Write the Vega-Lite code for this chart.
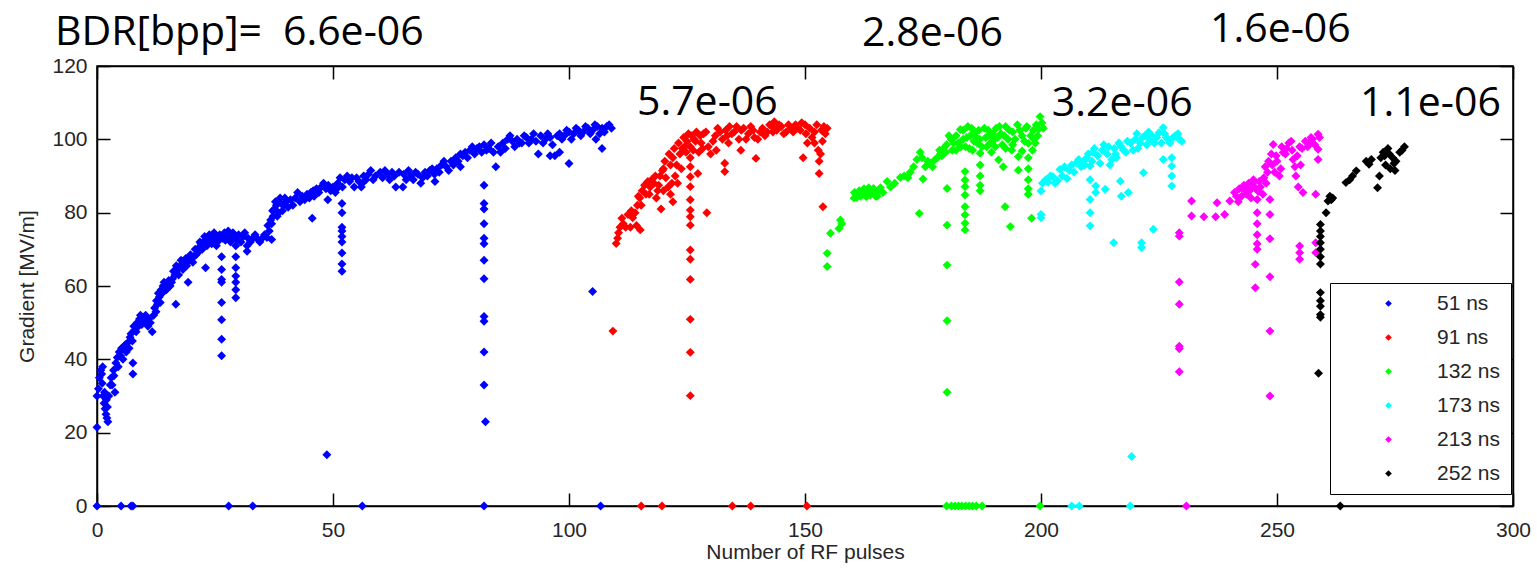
{
"$schema": "https://vega.github.io/schema/vega-lite/v6.json",
"width": 1416, "height": 440,
"autosize": {"type": "none"},
"padding": {"left": 97, "top": 66, "right": 24, "bottom": 67},
"background": "white",
"config": {
 "view": {"stroke": "black", "strokeWidth": 1.5},
 "axis": {"grid": false, "labelFlush": false, "domainColor": "black", "domainWidth": 1.5, "tickColor": "black", "tickWidth": 1.5, "tickSize": -13,
  "labelFont": "Liberation Sans", "labelFontSize": 21, "labelColor": "#262626", "titleFont": "Liberation Sans", "titleFontSize": 21, "titleFontWeight": "normal", "titleColor": "#262626"}
},
"datasets": {
"pts": [
{"pulses":0,"gradient":21.5,"width":"51 ns"},{"pulses":0,"gradient":30,"width":"51 ns"},{"pulses":0.3,"gradient":32,"width":"51 ns"},{"pulses":0.5,"gradient":35,"width":"51 ns"},{"pulses":0.8,"gradient":37,"width":"51 ns"},{"pulses":1,"gradient":36,"width":"51 ns"},{"pulses":1.1,"gradient":33.5,"width":"51 ns"},{"pulses":1.3,"gradient":30,"width":"51 ns"},{"pulses":1.5,"gradient":28,"width":"51 ns"},{"pulses":1.7,"gradient":26.5,"width":"51 ns"},{"pulses":1.9,"gradient":25,"width":"51 ns"},{"pulses":2.1,"gradient":24,"width":"51 ns"},{"pulses":2.3,"gradient":23,"width":"51 ns"},{"pulses":2.2,"gradient":27,"width":"51 ns"},{"pulses":2,"gradient":29,"width":"51 ns"},{"pulses":1.6,"gradient":31,"width":"51 ns"},{"pulses":1.2,"gradient":38,"width":"51 ns"},{"pulses":2.5,"gradient":30,"width":"51 ns"},{"pulses":2.8,"gradient":33,"width":"51 ns"},{"pulses":3.8,"gradient":31,"width":"51 ns"},{"pulses":3,"gradient":35,"width":"51 ns"},{"pulses":3.5,"gradient":37,"width":"51 ns"},{"pulses":4,"gradient":39,"width":"51 ns"},{"pulses":4.3,"gradient":40.5,"width":"51 ns"},{"pulses":4.7,"gradient":42,"width":"51 ns"},{"pulses":5.2,"gradient":43,"width":"51 ns"},{"pulses":5.7,"gradient":43.5,"width":"51 ns"},{"pulses":6.2,"gradient":42,"width":"51 ns"},{"pulses":6.8,"gradient":43,"width":"51 ns"},{"pulses":7.2,"gradient":47,"width":"51 ns"},{"pulses":7.6,"gradient":39,"width":"51 ns"},{"pulses":7.6,"gradient":36,"width":"51 ns"},{"pulses":7.5,"gradient":45,"width":"51 ns"},{"pulses":8,"gradient":48,"width":"51 ns"},{"pulses":8.5,"gradient":50,"width":"51 ns"},{"pulses":9,"gradient":51,"width":"51 ns"},{"pulses":9.5,"gradient":49.5,"width":"51 ns"},{"pulses":10,"gradient":50.5,"width":"51 ns"},{"pulses":10.5,"gradient":50,"width":"51 ns"},{"pulses":11,"gradient":51,"width":"51 ns"},{"pulses":11.7,"gradient":47.5,"width":"51 ns"},{"pulses":12,"gradient":52,"width":"51 ns"},{"pulses":12.5,"gradient":53,"width":"51 ns"},{"pulses":12.8,"gradient":55,"width":"51 ns"},{"pulses":13.2,"gradient":57,"width":"51 ns"},{"pulses":13.6,"gradient":59,"width":"51 ns"},{"pulses":14,"gradient":60,"width":"51 ns"},{"pulses":14.5,"gradient":60.5,"width":"51 ns"},{"pulses":15,"gradient":59.5,"width":"51 ns"},{"pulses":15.5,"gradient":60,"width":"51 ns"},{"pulses":16,"gradient":62,"width":"51 ns"},{"pulses":16.7,"gradient":55,"width":"51 ns"},{"pulses":16.5,"gradient":63,"width":"51 ns"},{"pulses":17,"gradient":64.5,"width":"51 ns"},{"pulses":17.5,"gradient":65,"width":"51 ns"},{"pulses":18,"gradient":66,"width":"51 ns"},{"pulses":18.5,"gradient":66.5,"width":"51 ns"},{"pulses":19.3,"gradient":61,"width":"51 ns"},{"pulses":19.5,"gradient":67,"width":"51 ns"},{"pulses":20,"gradient":67.5,"width":"51 ns"},{"pulses":20.5,"gradient":68,"width":"51 ns"},{"pulses":21,"gradient":68.5,"width":"51 ns"},{"pulses":21.6,"gradient":70.5,"width":"51 ns"},{"pulses":22,"gradient":71.5,"width":"51 ns"},{"pulses":22.5,"gradient":72,"width":"51 ns"},{"pulses":23,"gradient":65,"width":"51 ns"},{"pulses":23,"gradient":72.5,"width":"51 ns"},{"pulses":23.5,"gradient":72,"width":"51 ns"},{"pulses":24,"gradient":73,"width":"51 ns"},{"pulses":24.5,"gradient":72.5,"width":"51 ns"},{"pulses":25,"gradient":73.5,"width":"51 ns"},{"pulses":25.5,"gradient":72,"width":"51 ns"},{"pulses":26,"gradient":74,"width":"51 ns"},{"pulses":26.4,"gradient":68,"width":"51 ns"},{"pulses":26.4,"gradient":64.5,"width":"51 ns"},{"pulses":26.4,"gradient":61.8,"width":"51 ns"},{"pulses":26.4,"gradient":61,"width":"51 ns"},{"pulses":26.4,"gradient":55.5,"width":"51 ns"},{"pulses":26.4,"gradient":50.8,"width":"51 ns"},{"pulses":26.4,"gradient":45.5,"width":"51 ns"},{"pulses":26.4,"gradient":41,"width":"51 ns"},{"pulses":27,"gradient":74.5,"width":"51 ns"},{"pulses":27.5,"gradient":74,"width":"51 ns"},{"pulses":28,"gradient":73.5,"width":"51 ns"},{"pulses":28.5,"gradient":73,"width":"51 ns"},{"pulses":29,"gradient":73.5,"width":"51 ns"},{"pulses":29.4,"gradient":71,"width":"51 ns"},{"pulses":29.4,"gradient":68,"width":"51 ns"},{"pulses":29.4,"gradient":65,"width":"51 ns"},{"pulses":29.4,"gradient":62.7,"width":"51 ns"},{"pulses":29.4,"gradient":61,"width":"51 ns"},{"pulses":29.4,"gradient":59,"width":"51 ns"},{"pulses":29.4,"gradient":56.8,"width":"51 ns"},{"pulses":30,"gradient":74,"width":"51 ns"},{"pulses":31,"gradient":73.5,"width":"51 ns"},{"pulses":31.8,"gradient":71,"width":"51 ns"},{"pulses":31.8,"gradient":69.5,"width":"51 ns"},{"pulses":32,"gradient":73,"width":"51 ns"},{"pulses":33,"gradient":73,"width":"51 ns"},{"pulses":34,"gradient":72.8,"width":"51 ns"},{"pulses":35,"gradient":73,"width":"51 ns"},{"pulses":36,"gradient":73.2,"width":"51 ns"},{"pulses":36.5,"gradient":75,"width":"51 ns"},{"pulses":37,"gradient":72.7,"width":"51 ns"},{"pulses":37,"gradient":77,"width":"51 ns"},{"pulses":37.3,"gradient":79,"width":"51 ns"},{"pulses":37.6,"gradient":81,"width":"51 ns"},{"pulses":38,"gradient":82,"width":"51 ns"},{"pulses":38.5,"gradient":80,"width":"51 ns"},{"pulses":39,"gradient":82.5,"width":"51 ns"},{"pulses":39.5,"gradient":82,"width":"51 ns"},{"pulses":40,"gradient":83,"width":"51 ns"},{"pulses":41,"gradient":83.5,"width":"51 ns"},{"pulses":42,"gradient":84,"width":"51 ns"},{"pulses":43,"gradient":83,"width":"51 ns"},{"pulses":44,"gradient":83.5,"width":"51 ns"},{"pulses":45,"gradient":84,"width":"51 ns"},{"pulses":45.6,"gradient":78.5,"width":"51 ns"},{"pulses":45.8,"gradient":86,"width":"51 ns"},{"pulses":46.5,"gradient":86.5,"width":"51 ns"},{"pulses":47.5,"gradient":87,"width":"51 ns"},{"pulses":48.5,"gradient":86.5,"width":"51 ns"},{"pulses":48.7,"gradient":14,"width":"51 ns"},{"pulses":48.9,"gradient":83.5,"width":"51 ns"},{"pulses":49.5,"gradient":86,"width":"51 ns"},{"pulses":50.5,"gradient":85.5,"width":"51 ns"},{"pulses":51,"gradient":88,"width":"51 ns"},{"pulses":51.9,"gradient":82.5,"width":"51 ns"},{"pulses":51.9,"gradient":80,"width":"51 ns"},{"pulses":51.9,"gradient":76,"width":"51 ns"},{"pulses":51.9,"gradient":75,"width":"51 ns"},{"pulses":51.9,"gradient":73.5,"width":"51 ns"},{"pulses":51.9,"gradient":72,"width":"51 ns"},{"pulses":51.9,"gradient":69,"width":"51 ns"},{"pulses":51.9,"gradient":66,"width":"51 ns"},{"pulses":51.9,"gradient":64,"width":"51 ns"},{"pulses":52.5,"gradient":89,"width":"51 ns"},{"pulses":53.5,"gradient":88.5,"width":"51 ns"},{"pulses":54.5,"gradient":87,"width":"51 ns"},{"pulses":55,"gradient":89.5,"width":"51 ns"},{"pulses":56,"gradient":87,"width":"51 ns"},{"pulses":56.5,"gradient":90,"width":"51 ns"},{"pulses":57.5,"gradient":90.5,"width":"51 ns"},{"pulses":59,"gradient":90,"width":"51 ns"},{"pulses":60,"gradient":91,"width":"51 ns"},{"pulses":61.5,"gradient":90.5,"width":"51 ns"},{"pulses":63,"gradient":90,"width":"51 ns"},{"pulses":63.3,"gradient":87,"width":"51 ns"},{"pulses":64.8,"gradient":87,"width":"51 ns"},{"pulses":65,"gradient":90.5,"width":"51 ns"},{"pulses":66.5,"gradient":90,"width":"51 ns"},{"pulses":68,"gradient":90.5,"width":"51 ns"},{"pulses":68.6,"gradient":88,"width":"51 ns"},{"pulses":69.5,"gradient":91,"width":"51 ns"},{"pulses":70.5,"gradient":91.5,"width":"51 ns"},{"pulses":71.6,"gradient":88.5,"width":"51 ns"},{"pulses":72,"gradient":92,"width":"51 ns"},{"pulses":73,"gradient":93,"width":"51 ns"},{"pulses":74,"gradient":92.5,"width":"51 ns"},{"pulses":75,"gradient":94,"width":"51 ns"},{"pulses":76,"gradient":95,"width":"51 ns"},{"pulses":77,"gradient":92.5,"width":"51 ns"},{"pulses":77,"gradient":96,"width":"51 ns"},{"pulses":78,"gradient":96.5,"width":"51 ns"},{"pulses":79,"gradient":97,"width":"51 ns"},{"pulses":80,"gradient":96,"width":"51 ns"},{"pulses":81,"gradient":98,"width":"51 ns"},{"pulses":82,"gradient":98.5,"width":"51 ns"},{"pulses":82,"gradient":87.5,"width":"51 ns"},{"pulses":82,"gradient":82.5,"width":"51 ns"},{"pulses":82,"gradient":81,"width":"51 ns"},{"pulses":82,"gradient":77,"width":"51 ns"},{"pulses":82,"gradient":73,"width":"51 ns"},{"pulses":82,"gradient":71.5,"width":"51 ns"},{"pulses":82,"gradient":67,"width":"51 ns"},{"pulses":82,"gradient":62,"width":"51 ns"},{"pulses":82,"gradient":51.7,"width":"51 ns"},{"pulses":82,"gradient":50.4,"width":"51 ns"},{"pulses":82,"gradient":42,"width":"51 ns"},{"pulses":82,"gradient":33,"width":"51 ns"},{"pulses":82.3,"gradient":23,"width":"51 ns"},{"pulses":83,"gradient":97.5,"width":"51 ns"},{"pulses":84,"gradient":96.5,"width":"51 ns"},{"pulses":84.5,"gradient":92.5,"width":"51 ns"},{"pulses":85,"gradient":98,"width":"51 ns"},{"pulses":86,"gradient":99,"width":"51 ns"},{"pulses":87,"gradient":100,"width":"51 ns"},{"pulses":88,"gradient":99.5,"width":"51 ns"},{"pulses":89,"gradient":100,"width":"51 ns"},{"pulses":90,"gradient":99,"width":"51 ns"},{"pulses":91,"gradient":100.5,"width":"51 ns"},{"pulses":92,"gradient":100,"width":"51 ns"},{"pulses":93,"gradient":99.5,"width":"51 ns"},{"pulses":93.5,"gradient":96,"width":"51 ns"},{"pulses":94,"gradient":101,"width":"51 ns"},{"pulses":95,"gradient":100,"width":"51 ns"},{"pulses":96,"gradient":100.5,"width":"51 ns"},{"pulses":97,"gradient":95.5,"width":"51 ns"},{"pulses":97.5,"gradient":101,"width":"51 ns"},{"pulses":98,"gradient":101.5,"width":"51 ns"},{"pulses":99,"gradient":101,"width":"51 ns"},{"pulses":100,"gradient":93.4,"width":"51 ns"},{"pulses":100,"gradient":102,"width":"51 ns"},{"pulses":101,"gradient":101.5,"width":"51 ns"},{"pulses":102,"gradient":102.5,"width":"51 ns"},{"pulses":103,"gradient":102,"width":"51 ns"},{"pulses":104,"gradient":103,"width":"51 ns"},{"pulses":105,"gradient":102.5,"width":"51 ns"},{"pulses":105,"gradient":58.5,"width":"51 ns"},{"pulses":105.7,"gradient":100,"width":"51 ns"},{"pulses":106,"gradient":103.5,"width":"51 ns"},{"pulses":107,"gradient":97.5,"width":"51 ns"},{"pulses":107,"gradient":103,"width":"51 ns"},{"pulses":108,"gradient":103.5,"width":"51 ns"},{"pulses":109,"gradient":103,"width":"51 ns"},
{"pulses":3.2,"gradient":33,"width":"51 ns"},{"pulses":3.6,"gradient":35.5,"width":"51 ns"},{"pulses":4.5,"gradient":38,"width":"51 ns"},{"pulses":5,"gradient":41,"width":"51 ns"},{"pulses":5.5,"gradient":40,"width":"51 ns"},{"pulses":6,"gradient":44,"width":"51 ns"},{"pulses":6.5,"gradient":44.5,"width":"51 ns"},{"pulses":7,"gradient":46,"width":"51 ns"},{"pulses":7.8,"gradient":49,"width":"51 ns"},{"pulses":8.3,"gradient":47.5,"width":"51 ns"},{"pulses":8.8,"gradient":49,"width":"51 ns"},{"pulses":9.2,"gradient":52,"width":"51 ns"},{"pulses":9.8,"gradient":51.5,"width":"51 ns"},{"pulses":10.3,"gradient":52,"width":"51 ns"},{"pulses":10.8,"gradient":49,"width":"51 ns"},{"pulses":11.3,"gradient":50,"width":"51 ns"},{"pulses":12.2,"gradient":54,"width":"51 ns"},{"pulses":12.6,"gradient":56,"width":"51 ns"},{"pulses":13,"gradient":58,"width":"51 ns"},{"pulses":13.4,"gradient":55.5,"width":"51 ns"},{"pulses":13.8,"gradient":58,"width":"51 ns"},{"pulses":14.2,"gradient":61,"width":"51 ns"},{"pulses":14.7,"gradient":59,"width":"51 ns"},{"pulses":15.2,"gradient":61.5,"width":"51 ns"},{"pulses":15.8,"gradient":61,"width":"51 ns"},{"pulses":16.2,"gradient":64,"width":"51 ns"},{"pulses":16.8,"gradient":65.5,"width":"51 ns"},{"pulses":17.3,"gradient":63,"width":"51 ns"},{"pulses":17.8,"gradient":67,"width":"51 ns"},{"pulses":18.2,"gradient":64.5,"width":"51 ns"},{"pulses":18.8,"gradient":67.5,"width":"51 ns"},{"pulses":19,"gradient":65.5,"width":"51 ns"},{"pulses":19.8,"gradient":68.5,"width":"51 ns"},{"pulses":20.3,"gradient":66.5,"width":"51 ns"},{"pulses":20.8,"gradient":70,"width":"51 ns"},{"pulses":21.3,"gradient":69,"width":"51 ns"},{"pulses":21.8,"gradient":72,"width":"51 ns"},{"pulses":22.3,"gradient":70,"width":"51 ns"},{"pulses":22.8,"gradient":73.5,"width":"51 ns"},{"pulses":23.3,"gradient":71,"width":"51 ns"},{"pulses":23.8,"gradient":74,"width":"51 ns"},{"pulses":24.3,"gradient":71.5,"width":"51 ns"},{"pulses":24.8,"gradient":74.5,"width":"51 ns"},{"pulses":25.3,"gradient":71,"width":"51 ns"},{"pulses":25.8,"gradient":72.5,"width":"51 ns"},{"pulses":26.6,"gradient":73,"width":"51 ns"},{"pulses":27.2,"gradient":72.5,"width":"51 ns"},{"pulses":27.8,"gradient":75,"width":"51 ns"},{"pulses":28.3,"gradient":72,"width":"51 ns"},{"pulses":28.8,"gradient":74.5,"width":"51 ns"},{"pulses":29.7,"gradient":72.5,"width":"51 ns"},{"pulses":30.5,"gradient":72,"width":"51 ns"},{"pulses":31.3,"gradient":74.5,"width":"51 ns"},{"pulses":32.5,"gradient":72,"width":"51 ns"},{"pulses":33.5,"gradient":74,"width":"51 ns"},{"pulses":34.5,"gradient":72,"width":"51 ns"},{"pulses":35.5,"gradient":74,"width":"51 ns"},{"pulses":36.2,"gradient":76.5,"width":"51 ns"},{"pulses":36.8,"gradient":78,"width":"51 ns"},{"pulses":37.2,"gradient":80.5,"width":"51 ns"},{"pulses":37.8,"gradient":83,"width":"51 ns"},{"pulses":38.2,"gradient":79,"width":"51 ns"},{"pulses":38.8,"gradient":84,"width":"51 ns"},{"pulses":39.3,"gradient":80.5,"width":"51 ns"},{"pulses":39.8,"gradient":84,"width":"51 ns"},{"pulses":40.5,"gradient":81.5,"width":"51 ns"},{"pulses":41.5,"gradient":82,"width":"51 ns"},{"pulses":42.5,"gradient":85.5,"width":"51 ns"},{"pulses":43.5,"gradient":84.5,"width":"51 ns"},{"pulses":44.5,"gradient":85,"width":"51 ns"},{"pulses":45.3,"gradient":85.5,"width":"51 ns"},{"pulses":46,"gradient":84.5,"width":"51 ns"},{"pulses":47,"gradient":85.5,"width":"51 ns"},{"pulses":48,"gradient":88,"width":"51 ns"},{"pulses":49,"gradient":87.5,"width":"51 ns"},{"pulses":50,"gradient":87,"width":"51 ns"},{"pulses":50.8,"gradient":86.5,"width":"51 ns"},{"pulses":51.5,"gradient":89.5,"width":"51 ns"},{"pulses":52,"gradient":87,"width":"51 ns"},{"pulses":53,"gradient":90,"width":"51 ns"},{"pulses":54,"gradient":89.5,"width":"51 ns"},{"pulses":55.5,"gradient":88.5,"width":"51 ns"},{"pulses":56.2,"gradient":88,"width":"51 ns"},{"pulses":57,"gradient":89,"width":"51 ns"},{"pulses":58,"gradient":91.5,"width":"51 ns"},{"pulses":58.5,"gradient":89,"width":"51 ns"},{"pulses":60.5,"gradient":89.5,"width":"51 ns"},{"pulses":61,"gradient":91.5,"width":"51 ns"},{"pulses":62,"gradient":89,"width":"51 ns"},{"pulses":62.5,"gradient":91,"width":"51 ns"},{"pulses":64,"gradient":91,"width":"51 ns"},{"pulses":65.5,"gradient":89,"width":"51 ns"},{"pulses":66,"gradient":91.5,"width":"51 ns"},{"pulses":67,"gradient":89,"width":"51 ns"},{"pulses":67.5,"gradient":91,"width":"51 ns"},{"pulses":69,"gradient":89.5,"width":"51 ns"},{"pulses":70,"gradient":90,"width":"51 ns"},{"pulses":71,"gradient":92,"width":"51 ns"},{"pulses":71.5,"gradient":90.5,"width":"51 ns"},{"pulses":72.5,"gradient":91,"width":"51 ns"},{"pulses":73.5,"gradient":94,"width":"51 ns"},{"pulses":74.5,"gradient":91.5,"width":"51 ns"},{"pulses":75.5,"gradient":93,"width":"51 ns"},{"pulses":76.5,"gradient":94,"width":"51 ns"},{"pulses":77.5,"gradient":95.5,"width":"51 ns"},{"pulses":78.5,"gradient":95,"width":"51 ns"},{"pulses":79.5,"gradient":98,"width":"51 ns"},{"pulses":80.5,"gradient":97.5,"width":"51 ns"},{"pulses":81.5,"gradient":96.5,"width":"51 ns"},{"pulses":82.5,"gradient":97,"width":"51 ns"},{"pulses":83.5,"gradient":99,"width":"51 ns"},{"pulses":85.5,"gradient":96.5,"width":"51 ns"},{"pulses":86.5,"gradient":97.5,"width":"51 ns"},{"pulses":87.5,"gradient":101,"width":"51 ns"},{"pulses":88.5,"gradient":98,"width":"51 ns"},{"pulses":89.5,"gradient":99,"width":"51 ns"},{"pulses":90.5,"gradient":101,"width":"51 ns"},{"pulses":91.5,"gradient":99,"width":"51 ns"},{"pulses":92.5,"gradient":101.5,"width":"51 ns"},{"pulses":94.5,"gradient":99,"width":"51 ns"},{"pulses":95.5,"gradient":101.5,"width":"51 ns"},{"pulses":96,"gradient":95.5,"width":"51 ns"},{"pulses":96.5,"gradient":98.5,"width":"51 ns"},{"pulses":98,"gradient":96.5,"width":"51 ns"},{"pulses":98.5,"gradient":100,"width":"51 ns"},{"pulses":99.5,"gradient":102.5,"width":"51 ns"},{"pulses":100.5,"gradient":100,"width":"51 ns"},{"pulses":101.5,"gradient":103,"width":"51 ns"},{"pulses":102.5,"gradient":101,"width":"51 ns"},{"pulses":103.5,"gradient":103.5,"width":"51 ns"},{"pulses":104.5,"gradient":101.5,"width":"51 ns"},{"pulses":105.5,"gradient":104,"width":"51 ns"},{"pulses":106.5,"gradient":101.5,"width":"51 ns"},{"pulses":107.5,"gradient":102,"width":"51 ns"},{"pulses":108.5,"gradient":104,"width":"51 ns"},
{"pulses":0,"gradient":0,"width":"51 ns"},{"pulses":5.1,"gradient":0,"width":"51 ns"},{"pulses":7.2,"gradient":0,"width":"51 ns"},{"pulses":7.6,"gradient":0,"width":"51 ns"},{"pulses":27.9,"gradient":0,"width":"51 ns"},{"pulses":33,"gradient":0,"width":"51 ns"},{"pulses":56.2,"gradient":0,"width":"51 ns"},{"pulses":82,"gradient":0,"width":"51 ns"},{"pulses":106.7,"gradient":0,"width":"51 ns"},
{"pulses":109.3,"gradient":47.7,"width":"91 ns"},{"pulses":110,"gradient":71.6,"width":"91 ns"},{"pulses":110.3,"gradient":73,"width":"91 ns"},{"pulses":110.5,"gradient":74.5,"width":"91 ns"},{"pulses":110.8,"gradient":76,"width":"91 ns"},{"pulses":111.2,"gradient":78.5,"width":"91 ns"},{"pulses":111.5,"gradient":77,"width":"91 ns"},{"pulses":113.5,"gradient":78.6,"width":"91 ns"},{"pulses":113,"gradient":76,"width":"91 ns"},{"pulses":114.3,"gradient":76.5,"width":"91 ns"},{"pulses":115.1,"gradient":75.3,"width":"91 ns"},{"pulses":114,"gradient":80,"width":"91 ns"},{"pulses":114.5,"gradient":82,"width":"91 ns"},{"pulses":115,"gradient":84,"width":"91 ns"},{"pulses":115.5,"gradient":86,"width":"91 ns"},{"pulses":116,"gradient":87.5,"width":"91 ns"},{"pulses":116.7,"gradient":88.5,"width":"91 ns"},{"pulses":117,"gradient":85,"width":"91 ns"},{"pulses":117.5,"gradient":89,"width":"91 ns"},{"pulses":118,"gradient":88,"width":"91 ns"},{"pulses":118.5,"gradient":84,"width":"91 ns"},{"pulses":118.8,"gradient":86,"width":"91 ns"},{"pulses":119.5,"gradient":81,"width":"91 ns"},{"pulses":119.3,"gradient":90,"width":"91 ns"},{"pulses":120,"gradient":92,"width":"91 ns"},{"pulses":120,"gradient":86,"width":"91 ns"},{"pulses":120.5,"gradient":89.5,"width":"91 ns"},{"pulses":121,"gradient":87,"width":"91 ns"},{"pulses":121.5,"gradient":93,"width":"91 ns"},{"pulses":121.5,"gradient":85,"width":"91 ns"},{"pulses":122,"gradient":95,"width":"91 ns"},{"pulses":122,"gradient":83,"width":"91 ns"},{"pulses":122.5,"gradient":90,"width":"91 ns"},{"pulses":123,"gradient":88,"width":"91 ns"},{"pulses":123.5,"gradient":96,"width":"91 ns"},{"pulses":124,"gradient":97.5,"width":"91 ns"},{"pulses":124.5,"gradient":98,"width":"91 ns"},{"pulses":125,"gradient":99.5,"width":"91 ns"},{"pulses":125.7,"gradient":89.8,"width":"91 ns"},{"pulses":125.7,"gradient":87.1,"width":"91 ns"},{"pulses":125.7,"gradient":83.5,"width":"91 ns"},{"pulses":125.7,"gradient":80.7,"width":"91 ns"},{"pulses":125.7,"gradient":78.9,"width":"91 ns"},{"pulses":125.7,"gradient":76.6,"width":"91 ns"},{"pulses":125.7,"gradient":69.8,"width":"91 ns"},{"pulses":125.7,"gradient":67.3,"width":"91 ns"},{"pulses":125.7,"gradient":61.8,"width":"91 ns"},{"pulses":125.7,"gradient":50.9,"width":"91 ns"},{"pulses":125.7,"gradient":41.9,"width":"91 ns"},{"pulses":125.7,"gradient":30.1,"width":"91 ns"},{"pulses":126,"gradient":101,"width":"91 ns"},{"pulses":126.5,"gradient":100,"width":"91 ns"},{"pulses":127,"gradient":102,"width":"91 ns"},{"pulses":127.3,"gradient":90.7,"width":"91 ns"},{"pulses":128,"gradient":99,"width":"91 ns"},{"pulses":128.5,"gradient":101.5,"width":"91 ns"},{"pulses":129.2,"gradient":80,"width":"91 ns"},{"pulses":129.5,"gradient":98,"width":"91 ns"},{"pulses":130,"gradient":96,"width":"91 ns"},{"pulses":131,"gradient":101,"width":"91 ns"},{"pulses":131.5,"gradient":103,"width":"91 ns"},{"pulses":132,"gradient":102,"width":"91 ns"},{"pulses":133,"gradient":91.2,"width":"91 ns"},{"pulses":133,"gradient":93.5,"width":"91 ns"},{"pulses":133.5,"gradient":101,"width":"91 ns"},{"pulses":134,"gradient":103.5,"width":"91 ns"},{"pulses":135,"gradient":102,"width":"91 ns"},{"pulses":136,"gradient":100,"width":"91 ns"},{"pulses":136.4,"gradient":97,"width":"91 ns"},{"pulses":137,"gradient":103,"width":"91 ns"},{"pulses":138,"gradient":101.5,"width":"91 ns"},{"pulses":139,"gradient":102.5,"width":"91 ns"},{"pulses":139.6,"gradient":94.8,"width":"91 ns"},{"pulses":140,"gradient":100,"width":"91 ns"},{"pulses":141,"gradient":103,"width":"91 ns"},{"pulses":142,"gradient":102,"width":"91 ns"},{"pulses":143,"gradient":103.5,"width":"91 ns"},{"pulses":143.5,"gradient":104.8,"width":"91 ns"},{"pulses":144,"gradient":102.5,"width":"91 ns"},{"pulses":145,"gradient":103.5,"width":"91 ns"},{"pulses":146,"gradient":102,"width":"91 ns"},{"pulses":147,"gradient":103,"width":"91 ns"},{"pulses":148,"gradient":104,"width":"91 ns"},{"pulses":149,"gradient":102.5,"width":"91 ns"},{"pulses":149.6,"gradient":95,"width":"91 ns"},{"pulses":150,"gradient":104,"width":"91 ns"},{"pulses":150.5,"gradient":99,"width":"91 ns"},{"pulses":151,"gradient":103,"width":"91 ns"},{"pulses":152,"gradient":99,"width":"91 ns"},{"pulses":152.5,"gradient":104,"width":"91 ns"},{"pulses":153,"gradient":94,"width":"91 ns"},{"pulses":153,"gradient":90.7,"width":"91 ns"},{"pulses":153.5,"gradient":102.5,"width":"91 ns"},{"pulses":153.8,"gradient":81.6,"width":"91 ns"},{"pulses":154,"gradient":103.5,"width":"91 ns"},{"pulses":154.7,"gradient":103,"width":"91 ns"},
{"pulses":112,"gradient":76,"width":"91 ns"},{"pulses":112.5,"gradient":79.5,"width":"91 ns"},{"pulses":113.2,"gradient":80.5,"width":"91 ns"},{"pulses":114.7,"gradient":84.5,"width":"91 ns"},{"pulses":115.3,"gradient":82,"width":"91 ns"},{"pulses":116.3,"gradient":85,"width":"91 ns"},{"pulses":117.2,"gradient":87,"width":"91 ns"},{"pulses":118.3,"gradient":90,"width":"91 ns"},{"pulses":119,"gradient":87.5,"width":"91 ns"},{"pulses":119.8,"gradient":91.5,"width":"91 ns"},{"pulses":120.3,"gradient":94,"width":"91 ns"},{"pulses":121.2,"gradient":96,"width":"91 ns"},{"pulses":121.8,"gradient":88,"width":"91 ns"},{"pulses":122.3,"gradient":97.5,"width":"91 ns"},{"pulses":122.8,"gradient":93,"width":"91 ns"},{"pulses":123.2,"gradient":99,"width":"91 ns"},{"pulses":123.8,"gradient":92,"width":"91 ns"},{"pulses":124.3,"gradient":100.5,"width":"91 ns"},{"pulses":124.8,"gradient":96.5,"width":"91 ns"},{"pulses":125.3,"gradient":101.5,"width":"91 ns"},{"pulses":125.7,"gradient":98,"width":"91 ns"},{"pulses":125.7,"gradient":95,"width":"91 ns"},{"pulses":125.7,"gradient":92.5,"width":"91 ns"},{"pulses":126.3,"gradient":97,"width":"91 ns"},{"pulses":126.8,"gradient":99.5,"width":"91 ns"},{"pulses":127.5,"gradient":96.5,"width":"91 ns"},{"pulses":127.8,"gradient":101,"width":"91 ns"},{"pulses":128.3,"gradient":97.5,"width":"91 ns"},{"pulses":129,"gradient":102,"width":"91 ns"},{"pulses":130.5,"gradient":99.5,"width":"91 ns"},{"pulses":131.2,"gradient":97,"width":"91 ns"},{"pulses":132.5,"gradient":100,"width":"91 ns"},{"pulses":133.2,"gradient":102.5,"width":"91 ns"},{"pulses":133.8,"gradient":99,"width":"91 ns"},{"pulses":134.5,"gradient":101.5,"width":"91 ns"},{"pulses":135.5,"gradient":103.5,"width":"91 ns"},{"pulses":136.5,"gradient":102.5,"width":"91 ns"},{"pulses":137.5,"gradient":100,"width":"91 ns"},{"pulses":138.5,"gradient":103.5,"width":"91 ns"},{"pulses":139.3,"gradient":100.5,"width":"91 ns"},{"pulses":140.5,"gradient":102,"width":"91 ns"},{"pulses":141.5,"gradient":101,"width":"91 ns"},{"pulses":142.5,"gradient":104,"width":"91 ns"},{"pulses":143.2,"gradient":102,"width":"91 ns"},{"pulses":144.5,"gradient":104,"width":"91 ns"},{"pulses":145.5,"gradient":101.5,"width":"91 ns"},{"pulses":146.5,"gradient":104,"width":"91 ns"},{"pulses":147.5,"gradient":102,"width":"91 ns"},{"pulses":148.5,"gradient":103,"width":"91 ns"},{"pulses":149.3,"gradient":104.5,"width":"91 ns"},{"pulses":150.2,"gradient":101.5,"width":"91 ns"},{"pulses":151.5,"gradient":100.5,"width":"91 ns"},{"pulses":152,"gradient":102,"width":"91 ns"},{"pulses":152.8,"gradient":97,"width":"91 ns"},{"pulses":153.3,"gradient":96,"width":"91 ns"},{"pulses":153.7,"gradient":99.5,"width":"91 ns"},{"pulses":154.3,"gradient":101.5,"width":"91 ns"},
{"pulses":115.3,"gradient":0,"width":"91 ns"},{"pulses":119.7,"gradient":0,"width":"91 ns"},{"pulses":134.6,"gradient":0,"width":"91 ns"},{"pulses":138.5,"gradient":0,"width":"91 ns"},{"pulses":150.4,"gradient":0,"width":"91 ns"},
{"pulses":154.7,"gradient":65.3,"width":"132 ns"},{"pulses":154.7,"gradient":68.9,"width":"132 ns"},{"pulses":155.4,"gradient":74.4,"width":"132 ns"},{"pulses":157.2,"gradient":75.7,"width":"132 ns"},{"pulses":157.5,"gradient":78,"width":"132 ns"},{"pulses":157.8,"gradient":77,"width":"132 ns"},{"pulses":160.4,"gradient":84,"width":"132 ns"},{"pulses":160.5,"gradient":85.5,"width":"132 ns"},{"pulses":161,"gradient":84.2,"width":"132 ns"},{"pulses":161.5,"gradient":86,"width":"132 ns"},{"pulses":162,"gradient":85,"width":"132 ns"},{"pulses":162.5,"gradient":86.5,"width":"132 ns"},{"pulses":163,"gradient":84.4,"width":"132 ns"},{"pulses":163.5,"gradient":86.8,"width":"132 ns"},{"pulses":164,"gradient":85.5,"width":"132 ns"},{"pulses":164.5,"gradient":86.6,"width":"132 ns"},{"pulses":165,"gradient":84.5,"width":"132 ns"},{"pulses":165.5,"gradient":86,"width":"132 ns"},{"pulses":166,"gradient":86.8,"width":"132 ns"},{"pulses":167.4,"gradient":88.5,"width":"132 ns"},{"pulses":168.1,"gradient":87,"width":"132 ns"},{"pulses":170.2,"gradient":89.6,"width":"132 ns"},{"pulses":172.3,"gradient":91,"width":"132 ns"},{"pulses":173,"gradient":92.5,"width":"132 ns"},{"pulses":173.7,"gradient":94.5,"width":"132 ns"},{"pulses":174.2,"gradient":79.8,"width":"132 ns"},{"pulses":174.4,"gradient":96.5,"width":"132 ns"},{"pulses":175,"gradient":89.2,"width":"132 ns"},{"pulses":175.5,"gradient":92.5,"width":"132 ns"},{"pulses":176.5,"gradient":93.5,"width":"132 ns"},{"pulses":177.5,"gradient":94.4,"width":"132 ns"},{"pulses":178.7,"gradient":96,"width":"132 ns"},{"pulses":179.3,"gradient":97.5,"width":"132 ns"},{"pulses":180,"gradient":98.5,"width":"132 ns"},{"pulses":180.1,"gradient":86.6,"width":"132 ns"},{"pulses":180.1,"gradient":76.6,"width":"132 ns"},{"pulses":180.1,"gradient":65.7,"width":"132 ns"},{"pulses":180.1,"gradient":50.5,"width":"132 ns"},{"pulses":180.1,"gradient":31,"width":"132 ns"},{"pulses":181,"gradient":100,"width":"132 ns"},{"pulses":181.5,"gradient":99,"width":"132 ns"},{"pulses":182,"gradient":101,"width":"132 ns"},{"pulses":182,"gradient":97,"width":"132 ns"},{"pulses":182.9,"gradient":102.7,"width":"132 ns"},{"pulses":183.5,"gradient":100,"width":"132 ns"},{"pulses":183.9,"gradient":91.2,"width":"132 ns"},{"pulses":183.9,"gradient":88.9,"width":"132 ns"},{"pulses":183.9,"gradient":87.1,"width":"132 ns"},{"pulses":183.9,"gradient":84.8,"width":"132 ns"},{"pulses":183.9,"gradient":81.6,"width":"132 ns"},{"pulses":183.9,"gradient":79.4,"width":"132 ns"},{"pulses":183.9,"gradient":77.1,"width":"132 ns"},{"pulses":183.9,"gradient":75.3,"width":"132 ns"},{"pulses":184,"gradient":98,"width":"132 ns"},{"pulses":184.5,"gradient":103.5,"width":"132 ns"},{"pulses":185,"gradient":101,"width":"132 ns"},{"pulses":185.5,"gradient":97,"width":"132 ns"},{"pulses":186,"gradient":102,"width":"132 ns"},{"pulses":186.5,"gradient":99,"width":"132 ns"},{"pulses":187,"gradient":100,"width":"132 ns"},{"pulses":187.1,"gradient":96.2,"width":"132 ns"},{"pulses":187.1,"gradient":93,"width":"132 ns"},{"pulses":187.1,"gradient":90,"width":"132 ns"},{"pulses":187.1,"gradient":87.5,"width":"132 ns"},{"pulses":187.1,"gradient":86,"width":"132 ns"},{"pulses":188,"gradient":103,"width":"132 ns"},{"pulses":188.5,"gradient":98,"width":"132 ns"},{"pulses":189,"gradient":101,"width":"132 ns"},{"pulses":189.5,"gradient":96.5,"width":"132 ns"},{"pulses":190,"gradient":99.8,"width":"132 ns"},{"pulses":190.5,"gradient":103,"width":"132 ns"},{"pulses":191,"gradient":94.4,"width":"132 ns"},{"pulses":191.5,"gradient":101.5,"width":"132 ns"},{"pulses":192,"gradient":92.5,"width":"132 ns"},{"pulses":192.4,"gradient":81.6,"width":"132 ns"},{"pulses":192.5,"gradient":103.5,"width":"132 ns"},{"pulses":192.5,"gradient":97.5,"width":"132 ns"},{"pulses":193,"gradient":100,"width":"132 ns"},{"pulses":193.5,"gradient":76.2,"width":"132 ns"},{"pulses":194,"gradient":102,"width":"132 ns"},{"pulses":194,"gradient":98.5,"width":"132 ns"},{"pulses":195,"gradient":104,"width":"132 ns"},{"pulses":195.2,"gradient":95.3,"width":"132 ns"},{"pulses":195.2,"gradient":91.6,"width":"132 ns"},{"pulses":196,"gradient":101,"width":"132 ns"},{"pulses":196,"gradient":96.8,"width":"132 ns"},{"pulses":197,"gradient":103.5,"width":"132 ns"},{"pulses":197.3,"gradient":98.9,"width":"132 ns"},{"pulses":197.3,"gradient":95,"width":"132 ns"},{"pulses":197.3,"gradient":92,"width":"132 ns"},{"pulses":197.3,"gradient":89,"width":"132 ns"},{"pulses":197.3,"gradient":86.5,"width":"132 ns"},{"pulses":197.3,"gradient":85,"width":"132 ns"},{"pulses":198,"gradient":78.5,"width":"132 ns"},{"pulses":198.4,"gradient":102.5,"width":"132 ns"},{"pulses":198.5,"gradient":100,"width":"132 ns"},{"pulses":199,"gradient":104,"width":"132 ns"},{"pulses":199.8,"gradient":106.2,"width":"132 ns"},{"pulses":200.5,"gradient":103,"width":"132 ns"},
{"pulses":160.8,"gradient":85,"width":"132 ns"},{"pulses":161.8,"gradient":84.5,"width":"132 ns"},{"pulses":162.2,"gradient":86,"width":"132 ns"},{"pulses":162.8,"gradient":85.3,"width":"132 ns"},{"pulses":163.3,"gradient":85.6,"width":"132 ns"},{"pulses":163.8,"gradient":84.8,"width":"132 ns"},{"pulses":164.3,"gradient":86,"width":"132 ns"},{"pulses":164.8,"gradient":85.2,"width":"132 ns"},{"pulses":165.3,"gradient":84.5,"width":"132 ns"},{"pulses":166.5,"gradient":85.5,"width":"132 ns"},{"pulses":169,"gradient":88,"width":"132 ns"},{"pulses":171,"gradient":90,"width":"132 ns"},{"pulses":171.8,"gradient":89.5,"width":"132 ns"},{"pulses":174.8,"gradient":95,"width":"132 ns"},{"pulses":176,"gradient":94,"width":"132 ns"},{"pulses":177,"gradient":92.5,"width":"132 ns"},{"pulses":178,"gradient":95,"width":"132 ns"},{"pulses":178.5,"gradient":97,"width":"132 ns"},{"pulses":179,"gradient":95.5,"width":"132 ns"},{"pulses":179.8,"gradient":96.5,"width":"132 ns"},{"pulses":180.5,"gradient":101,"width":"132 ns"},{"pulses":181.2,"gradient":97,"width":"132 ns"},{"pulses":182.5,"gradient":99,"width":"132 ns"},{"pulses":183,"gradient":98,"width":"132 ns"},{"pulses":183.5,"gradient":102.5,"width":"132 ns"},{"pulses":184.3,"gradient":100.5,"width":"132 ns"},{"pulses":184.8,"gradient":97.5,"width":"132 ns"},{"pulses":185.3,"gradient":103,"width":"132 ns"},{"pulses":185.8,"gradient":99.5,"width":"132 ns"},{"pulses":186.3,"gradient":100.5,"width":"132 ns"},{"pulses":186.8,"gradient":102.5,"width":"132 ns"},{"pulses":187.5,"gradient":98,"width":"132 ns"},{"pulses":188.3,"gradient":100.5,"width":"132 ns"},{"pulses":188.8,"gradient":102.5,"width":"132 ns"},{"pulses":189.3,"gradient":99,"width":"132 ns"},{"pulses":189.8,"gradient":101.5,"width":"132 ns"},{"pulses":190.3,"gradient":98,"width":"132 ns"},{"pulses":190.8,"gradient":100.5,"width":"132 ns"},{"pulses":191.2,"gradient":103.5,"width":"132 ns"},{"pulses":191.8,"gradient":98.5,"width":"132 ns"},{"pulses":192.2,"gradient":101,"width":"132 ns"},{"pulses":193.3,"gradient":102.5,"width":"132 ns"},{"pulses":193.8,"gradient":97,"width":"132 ns"},{"pulses":194.5,"gradient":100,"width":"132 ns"},{"pulses":195.5,"gradient":102.5,"width":"132 ns"},{"pulses":196.5,"gradient":99.5,"width":"132 ns"},{"pulses":196.8,"gradient":103,"width":"132 ns"},{"pulses":197.8,"gradient":101,"width":"132 ns"},{"pulses":198.2,"gradient":97,"width":"132 ns"},{"pulses":198.8,"gradient":99,"width":"132 ns"},{"pulses":199.3,"gradient":101,"width":"132 ns"},{"pulses":199.5,"gradient":102.8,"width":"132 ns"},{"pulses":200.2,"gradient":104.5,"width":"132 ns"},
{"pulses":180,"gradient":0,"width":"132 ns"},{"pulses":181,"gradient":0,"width":"132 ns"},{"pulses":181.8,"gradient":0,"width":"132 ns"},{"pulses":182.5,"gradient":0,"width":"132 ns"},{"pulses":183.2,"gradient":0,"width":"132 ns"},{"pulses":184,"gradient":0,"width":"132 ns"},{"pulses":184.8,"gradient":0,"width":"132 ns"},{"pulses":185.5,"gradient":0,"width":"132 ns"},{"pulses":186.3,"gradient":0,"width":"132 ns"},{"pulses":187.5,"gradient":0,"width":"132 ns"},{"pulses":199.8,"gradient":0,"width":"132 ns"},
{"pulses":200,"gradient":85.9,"width":"173 ns"},{"pulses":200,"gradient":79.5,"width":"173 ns"},{"pulses":200,"gradient":78.6,"width":"173 ns"},{"pulses":201,"gradient":89,"width":"173 ns"},{"pulses":202.5,"gradient":89.8,"width":"173 ns"},{"pulses":203.5,"gradient":88.7,"width":"173 ns"},{"pulses":204,"gradient":91.8,"width":"173 ns"},{"pulses":205,"gradient":92.5,"width":"173 ns"},{"pulses":205.5,"gradient":89.3,"width":"173 ns"},{"pulses":206.5,"gradient":93,"width":"173 ns"},{"pulses":207.5,"gradient":93.6,"width":"173 ns"},{"pulses":208.5,"gradient":92.5,"width":"173 ns"},{"pulses":209,"gradient":94,"width":"173 ns"},{"pulses":209.7,"gradient":95,"width":"173 ns"},{"pulses":210.4,"gradient":92.7,"width":"173 ns"},{"pulses":210.4,"gradient":89,"width":"173 ns"},{"pulses":210.4,"gradient":83.6,"width":"173 ns"},{"pulses":210.4,"gradient":80,"width":"173 ns"},{"pulses":210.4,"gradient":76.4,"width":"173 ns"},{"pulses":211,"gradient":96.5,"width":"173 ns"},{"pulses":211.6,"gradient":87.3,"width":"173 ns"},{"pulses":211.6,"gradient":85.5,"width":"173 ns"},{"pulses":212,"gradient":95.5,"width":"173 ns"},{"pulses":213,"gradient":97,"width":"173 ns"},{"pulses":213.6,"gradient":86.4,"width":"173 ns"},{"pulses":214,"gradient":96,"width":"173 ns"},{"pulses":214.6,"gradient":93,"width":"173 ns"},{"pulses":215.4,"gradient":71.8,"width":"173 ns"},{"pulses":215.5,"gradient":97.5,"width":"173 ns"},{"pulses":216,"gradient":95,"width":"173 ns"},{"pulses":216.8,"gradient":88.6,"width":"173 ns"},{"pulses":217,"gradient":84.5,"width":"173 ns"},{"pulses":217,"gradient":98,"width":"173 ns"},{"pulses":218,"gradient":96.5,"width":"173 ns"},{"pulses":218.5,"gradient":85.5,"width":"173 ns"},{"pulses":219.2,"gradient":13.5,"width":"173 ns"},{"pulses":219,"gradient":99,"width":"173 ns"},{"pulses":220,"gradient":100,"width":"173 ns"},{"pulses":220.5,"gradient":97.5,"width":"173 ns"},{"pulses":221.3,"gradient":71.8,"width":"173 ns"},{"pulses":221.3,"gradient":70.5,"width":"173 ns"},{"pulses":221.7,"gradient":90.9,"width":"173 ns"},{"pulses":222,"gradient":101,"width":"173 ns"},{"pulses":222.4,"gradient":98.5,"width":"173 ns"},{"pulses":223,"gradient":100,"width":"173 ns"},{"pulses":223.8,"gradient":75.5,"width":"173 ns"},{"pulses":224,"gradient":99,"width":"173 ns"},{"pulses":225,"gradient":101.8,"width":"173 ns"},{"pulses":225.9,"gradient":103.2,"width":"173 ns"},{"pulses":225.9,"gradient":94.5,"width":"173 ns"},{"pulses":226.5,"gradient":100.5,"width":"173 ns"},{"pulses":227.3,"gradient":99,"width":"173 ns"},{"pulses":227.7,"gradient":92.7,"width":"173 ns"},{"pulses":227.7,"gradient":90,"width":"173 ns"},{"pulses":227.7,"gradient":87.3,"width":"173 ns"},{"pulses":228.5,"gradient":101,"width":"173 ns"},{"pulses":229.3,"gradient":100,"width":"173 ns"},{"pulses":229.8,"gradient":99.5,"width":"173 ns"},
{"pulses":200.3,"gradient":88,"width":"173 ns"},{"pulses":201.5,"gradient":88.3,"width":"173 ns"},{"pulses":202,"gradient":90,"width":"173 ns"},{"pulses":203,"gradient":88,"width":"173 ns"},{"pulses":204.5,"gradient":90,"width":"173 ns"},{"pulses":206,"gradient":91.5,"width":"173 ns"},{"pulses":207,"gradient":91,"width":"173 ns"},{"pulses":208,"gradient":94.5,"width":"173 ns"},{"pulses":209.3,"gradient":93,"width":"173 ns"},{"pulses":210,"gradient":96,"width":"173 ns"},{"pulses":210.8,"gradient":94,"width":"173 ns"},{"pulses":211.3,"gradient":97.5,"width":"173 ns"},{"pulses":212.5,"gradient":93.5,"width":"173 ns"},{"pulses":213.3,"gradient":98.5,"width":"173 ns"},{"pulses":214.3,"gradient":98,"width":"173 ns"},{"pulses":215,"gradient":94.5,"width":"173 ns"},{"pulses":215.8,"gradient":96,"width":"173 ns"},{"pulses":216.5,"gradient":99,"width":"173 ns"},{"pulses":217.5,"gradient":97,"width":"173 ns"},{"pulses":218.3,"gradient":99.5,"width":"173 ns"},{"pulses":219.5,"gradient":97,"width":"173 ns"},{"pulses":220.3,"gradient":101.5,"width":"173 ns"},{"pulses":221,"gradient":99,"width":"173 ns"},{"pulses":221.5,"gradient":100.5,"width":"173 ns"},{"pulses":222.8,"gradient":102,"width":"173 ns"},{"pulses":223.5,"gradient":101,"width":"173 ns"},{"pulses":224.5,"gradient":100.5,"width":"173 ns"},{"pulses":225.5,"gradient":99,"width":"173 ns"},{"pulses":226.2,"gradient":101.5,"width":"173 ns"},{"pulses":227,"gradient":100,"width":"173 ns"},{"pulses":227.7,"gradient":95,"width":"173 ns"},{"pulses":228,"gradient":100.5,"width":"173 ns"},{"pulses":229,"gradient":101.5,"width":"173 ns"},
{"pulses":206.5,"gradient":0,"width":"173 ns"},{"pulses":208.1,"gradient":0,"width":"173 ns"},{"pulses":218.9,"gradient":0,"width":"173 ns"},
{"pulses":229.3,"gradient":74.5,"width":"213 ns"},{"pulses":229.3,"gradient":73.6,"width":"213 ns"},{"pulses":229.3,"gradient":61.1,"width":"213 ns"},{"pulses":229.3,"gradient":55,"width":"213 ns"},{"pulses":229.3,"gradient":43.6,"width":"213 ns"},{"pulses":229.3,"gradient":42.9,"width":"213 ns"},{"pulses":229.3,"gradient":36.6,"width":"213 ns"},{"pulses":231.9,"gradient":83.2,"width":"213 ns"},{"pulses":231.9,"gradient":79.1,"width":"213 ns"},{"pulses":234.5,"gradient":78.9,"width":"213 ns"},{"pulses":237,"gradient":78.9,"width":"213 ns"},{"pulses":237.3,"gradient":82.7,"width":"213 ns"},{"pulses":238.9,"gradient":79.5,"width":"213 ns"},{"pulses":240,"gradient":83.2,"width":"213 ns"},{"pulses":241.4,"gradient":84.5,"width":"213 ns"},{"pulses":242,"gradient":86.5,"width":"213 ns"},{"pulses":243,"gradient":87.5,"width":"213 ns"},{"pulses":243.5,"gradient":85,"width":"213 ns"},{"pulses":244,"gradient":88,"width":"213 ns"},{"pulses":244.5,"gradient":84,"width":"213 ns"},{"pulses":245,"gradient":89,"width":"213 ns"},{"pulses":245.8,"gradient":83.6,"width":"213 ns"},{"pulses":245.8,"gradient":80,"width":"213 ns"},{"pulses":245.8,"gradient":77,"width":"213 ns"},{"pulses":245.8,"gradient":74,"width":"213 ns"},{"pulses":245.8,"gradient":71.5,"width":"213 ns"},{"pulses":245.8,"gradient":70,"width":"213 ns"},{"pulses":245.4,"gradient":65.9,"width":"213 ns"},{"pulses":245.4,"gradient":59.5,"width":"213 ns"},{"pulses":246.5,"gradient":87,"width":"213 ns"},{"pulses":247,"gradient":85,"width":"213 ns"},{"pulses":247.7,"gradient":88,"width":"213 ns"},{"pulses":248,"gradient":91,"width":"213 ns"},{"pulses":248.5,"gradient":83.6,"width":"213 ns"},{"pulses":248.5,"gradient":79.5,"width":"213 ns"},{"pulses":248.5,"gradient":72.9,"width":"213 ns"},{"pulses":248.5,"gradient":62.5,"width":"213 ns"},{"pulses":248.5,"gradient":47.7,"width":"213 ns"},{"pulses":248.5,"gradient":30,"width":"213 ns"},{"pulses":249,"gradient":93,"width":"213 ns"},{"pulses":249.2,"gradient":98.6,"width":"213 ns"},{"pulses":249.8,"gradient":95.5,"width":"213 ns"},{"pulses":250.5,"gradient":90,"width":"213 ns"},{"pulses":251.3,"gradient":96.4,"width":"213 ns"},{"pulses":252,"gradient":97.5,"width":"213 ns"},{"pulses":253,"gradient":99.5,"width":"213 ns"},{"pulses":253.4,"gradient":94.5,"width":"213 ns"},{"pulses":254,"gradient":90,"width":"213 ns"},{"pulses":254.5,"gradient":87,"width":"213 ns"},{"pulses":254.8,"gradient":98,"width":"213 ns"},{"pulses":254.8,"gradient":70.9,"width":"213 ns"},{"pulses":254.8,"gradient":69.1,"width":"213 ns"},{"pulses":254.8,"gradient":67.3,"width":"213 ns"},{"pulses":255.5,"gradient":85.5,"width":"213 ns"},{"pulses":256.9,"gradient":99,"width":"213 ns"},{"pulses":257.5,"gradient":100,"width":"213 ns"},{"pulses":258.2,"gradient":85,"width":"213 ns"},{"pulses":258.2,"gradient":71.8,"width":"213 ns"},{"pulses":258.2,"gradient":69.1,"width":"213 ns"},{"pulses":258.7,"gradient":101.4,"width":"213 ns"},{"pulses":258.7,"gradient":97.3,"width":"213 ns"},{"pulses":258.7,"gradient":94.5,"width":"213 ns"},{"pulses":259,"gradient":100.5,"width":"213 ns"},
{"pulses":241,"gradient":85.5,"width":"213 ns"},{"pulses":241.8,"gradient":83,"width":"213 ns"},{"pulses":242.5,"gradient":84.5,"width":"213 ns"},{"pulses":243.2,"gradient":86,"width":"213 ns"},{"pulses":243.8,"gradient":87,"width":"213 ns"},{"pulses":244.2,"gradient":86,"width":"213 ns"},{"pulses":244.8,"gradient":87.5,"width":"213 ns"},{"pulses":245.2,"gradient":88.5,"width":"213 ns"},{"pulses":245.6,"gradient":86.5,"width":"213 ns"},{"pulses":246,"gradient":85.8,"width":"213 ns"},{"pulses":246.2,"gradient":88.5,"width":"213 ns"},{"pulses":247.2,"gradient":89.5,"width":"213 ns"},{"pulses":247.5,"gradient":92.5,"width":"213 ns"},{"pulses":248.2,"gradient":94,"width":"213 ns"},{"pulses":248.8,"gradient":96,"width":"213 ns"},{"pulses":249.5,"gradient":91,"width":"213 ns"},{"pulses":250,"gradient":94,"width":"213 ns"},{"pulses":250.8,"gradient":92,"width":"213 ns"},{"pulses":251,"gradient":98,"width":"213 ns"},{"pulses":251.8,"gradient":96,"width":"213 ns"},{"pulses":252.5,"gradient":99,"width":"213 ns"},{"pulses":253.2,"gradient":97,"width":"213 ns"},{"pulses":253.8,"gradient":92.5,"width":"213 ns"},{"pulses":254.3,"gradient":95.5,"width":"213 ns"},{"pulses":255,"gradient":93,"width":"213 ns"},{"pulses":255.3,"gradient":97.5,"width":"213 ns"},{"pulses":256,"gradient":99.5,"width":"213 ns"},{"pulses":256.5,"gradient":98,"width":"213 ns"},{"pulses":257.2,"gradient":100.5,"width":"213 ns"},{"pulses":258,"gradient":98.5,"width":"213 ns"},
{"pulses":230.8,"gradient":0,"width":"213 ns"},
{"pulses":258.8,"gradient":36.2,"width":"252 ns"},{"pulses":259.2,"gradient":76.8,"width":"252 ns"},{"pulses":259.2,"gradient":75,"width":"252 ns"},{"pulses":259.2,"gradient":73.5,"width":"252 ns"},{"pulses":259.2,"gradient":71.8,"width":"252 ns"},{"pulses":259.2,"gradient":70,"width":"252 ns"},{"pulses":259.2,"gradient":68,"width":"252 ns"},{"pulses":259.2,"gradient":66,"width":"252 ns"},{"pulses":259.2,"gradient":58.2,"width":"252 ns"},{"pulses":259.2,"gradient":56,"width":"252 ns"},{"pulses":259.2,"gradient":54.5,"width":"252 ns"},{"pulses":259.2,"gradient":52.2,"width":"252 ns"},{"pulses":259.2,"gradient":51.5,"width":"252 ns"},{"pulses":260.4,"gradient":80,"width":"252 ns"},{"pulses":260.8,"gradient":83.2,"width":"252 ns"},{"pulses":261.2,"gradient":84.5,"width":"252 ns"},{"pulses":261.5,"gradient":83.5,"width":"252 ns"},{"pulses":261.8,"gradient":84,"width":"252 ns"},{"pulses":264.6,"gradient":88.2,"width":"252 ns"},{"pulses":265.4,"gradient":89,"width":"252 ns"},{"pulses":266,"gradient":90,"width":"252 ns"},{"pulses":266.8,"gradient":91.4,"width":"252 ns"},{"pulses":268.9,"gradient":94,"width":"252 ns"},{"pulses":269.5,"gradient":93.2,"width":"252 ns"},{"pulses":270,"gradient":94.5,"width":"252 ns"},{"pulses":271.3,"gradient":86.8,"width":"252 ns"},{"pulses":271.7,"gradient":90,"width":"252 ns"},{"pulses":272,"gradient":95,"width":"252 ns"},{"pulses":272.5,"gradient":96.5,"width":"252 ns"},{"pulses":272.8,"gradient":95.5,"width":"252 ns"},{"pulses":273,"gradient":93,"width":"252 ns"},{"pulses":273.5,"gradient":97.5,"width":"252 ns"},{"pulses":273.8,"gradient":96,"width":"252 ns"},{"pulses":274,"gradient":92,"width":"252 ns"},{"pulses":274.5,"gradient":95,"width":"252 ns"},{"pulses":274.8,"gradient":93.5,"width":"252 ns"},{"pulses":275,"gradient":91.5,"width":"252 ns"},{"pulses":275.2,"gradient":94,"width":"252 ns"},{"pulses":276,"gradient":96.5,"width":"252 ns"},{"pulses":276.5,"gradient":97,"width":"252 ns"},{"pulses":277,"gradient":98,"width":"252 ns"},
{"pulses":263.4,"gradient":0,"width":"252 ns"}
],
"ann": [
{"x":-8.9,"y":125.7,"label":"BDR[bpp]="},
{"x":39.4,"y":125.7,"label":"6.6e-06"},
{"x":114.4,"y":106.6,"label":"5.7e-06"},
{"x":162.1,"y":125.4,"label":"2.8e-06"},
{"x":202.3,"y":106.4,"label":"3.2e-06"},
{"x":235.8,"y":126.5,"label":"1.6e-06"},
{"x":267.6,"y":106.4,"label":"1.1e-06"}
]
},
"layer": [
 {
  "data": {"name": "pts"},
  "mark": {"type": "point", "shape": "diamond", "filled": true, "size": 80, "opacity": 1},
  "encoding": {
   "x": {"field": "pulses", "type": "quantitative", "scale": {"domain": [0, 300], "nice": false, "zero": false},
     "axis": {"orient": "bottom", "values": [0,50,100,150,200,250,300], "title": "Number of RF pulses", "labelPadding": 26, "titlePadding": 1}},
   "y": {"field": "gradient", "type": "quantitative", "scale": {"domain": [0, 120], "nice": false, "zero": false},
     "axis": {"orient": "left", "values": [0,20,40,60,80,100,120], "title": "Gradient [MV/m]", "labelPadding": 23, "titlePadding": 14}},
   "color": {"field": "width", "type": "nominal",
     "scale": {"domain": ["51 ns","91 ns","132 ns","173 ns","213 ns","252 ns"], "range": ["#0000ff","#ff0000","#00ff00","#00ffff","#ff00ff","#000000"]},
     "legend": {"title": null, "orient": "none", "legendX": 1233, "legendY": 217, "symbolType": "diamond", "symbolSize": 45,
       "labelFont": "Liberation Sans", "labelFontSize": 21, "labelColor": "#262626", "padding": 10, "rowPadding": 12,
       "symbolOffset": 38, "labelOffset": 38, "strokeColor": "black", "fillColor": "white", "symbolStrokeWidth": 0, "symbolOpacity": 1}}
  }
 },
 {
  "data": {"name": "ann"},
  "mark": {"type": "text", "align": "left", "baseline": "alphabetic", "font": "Open Sans", "fontSize": 41, "color": "black"},
  "encoding": {
   "x": {"field": "x", "type": "quantitative", "scale": {"domain": [0, 300], "nice": false, "zero": false},
     "axis": {"orient": "top", "values": [0,50,100,150,200,250,300], "labels": false, "title": null}},
   "y": {"field": "y", "type": "quantitative", "scale": {"domain": [0, 120], "nice": false, "zero": false},
     "axis": {"orient": "right", "values": [0,20,40,60,80,100,120], "labels": false, "title": null}},
   "text": {"field": "label"}
  }
 }
],
"resolve": {"axis": {"x": "independent", "y": "independent"}}
}
